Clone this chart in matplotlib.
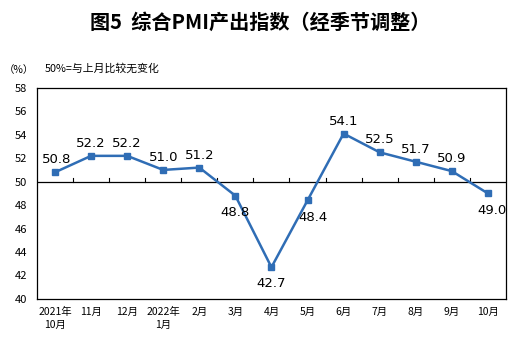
import matplotlib.pyplot as plt
import numpy as np

plt.rcParams['font.family'] = ['Noto Sans CJK SC', 'DejaVu Sans']

months = ["2021年\n10月", "11月", "12月", "2022年\n1月", "2月", "3月", "4月",
          "5月", "6月", "7月", "8月", "9月", "10月"]
pmi = [50.8, 52.2, 52.2, 51.0, 51.2, 48.8, 42.7, 48.4, 54.1, 52.5, 51.7, 50.9, 49.0]
# label offsets in points (dx, dy)
label_off = [(1, 9), (0, 9), (0, 9), (0, 9), (0, 9), (0, -12), (0, -12),
             (4, -12), (0, 9), (0, 9), (0, 9), (0, 9), (3, -12)]

fig = plt.figure(figsize=(5.21, 3.5), dpi=100)
ax = fig.add_axes([0.071, 0.146, 0.900, 0.603])

x = np.arange(len(months))
ax.plot(x, pmi, color='#2F6DB5', lw=1.8, marker='s', ms=4.5, zorder=3)
for xi, v, (dx, dy) in zip(x, pmi, label_off):
    ax.annotate(f"{v:.1f}", (xi, v), xytext=(dx, dy), textcoords='offset points',
                ha='center', va='center', fontsize=9.5, family='DejaVu Sans')

ax.set_xlim(-0.5, len(months) - 0.5)
ax.set_ylim(40, 58)
ax.set_yticks(range(40, 59, 2))
ax.tick_params(axis='y', length=0, labelsize=8, pad=7)
ax.set_xticks(x)
ax.set_xticklabels(months, fontsize=7.5, linespacing=1.3)
ax.tick_params(axis='x', length=0, pad=6)

# 50 line with small ticks between categories
ax.axhline(50, color='black', lw=0.9)
for b in np.arange(0.5, len(months) - 0.5):
    ax.plot([b, b], [50, 50.35], color='black', lw=0.8)

for s in ax.spines.values():
    s.set_linewidth(0.9)

fig.text(0.50, 0.937, "图5  综合PMI产出指数（经季节调整）", ha='center', va='center',
         fontsize=14.5, fontweight='bold')
fig.text(0.008, 0.8, "（%）", fontsize=7.5, va='center')
fig.text(0.086, 0.805, "50%=与上月比较无变化", fontsize=7.8, va='center')

fig.savefig("out.png", dpi=100)
